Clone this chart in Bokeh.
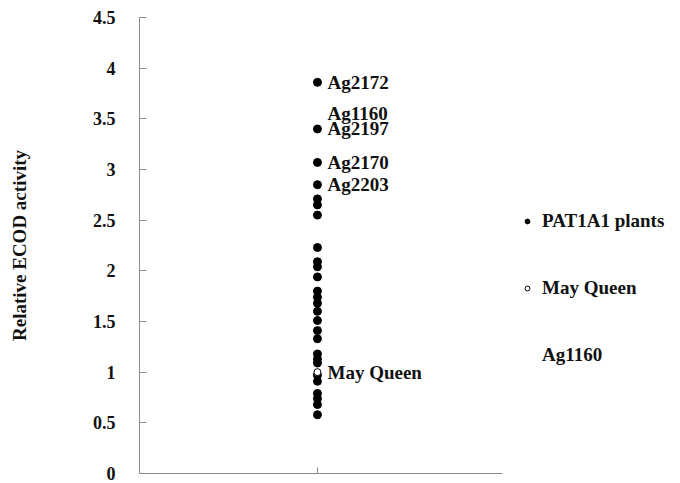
from bokeh.plotting import figure
from bokeh.models import ColumnDataSource, Legend, LegendItem, Range1d, FixedTicker
from bokeh.embed import file_html
from bokeh.resources import INLINE
from bokeh.core.properties import value

FONT = "Liberation Serif"

# ---- data ----
pat_values = [3.86, 3.40, 3.07, 2.85, 2.71, 2.65, 2.55, 2.23, 2.09, 2.04, 1.94,
              1.80, 1.74, 1.68, 1.60, 1.51, 1.41, 1.33, 1.18, 1.13, 1.09, 0.97,
              0.91, 0.79, 0.74, 0.68, 0.58]
may_queen_values = [1.00]
ag1160_values = [3.55]
label_names = ["Ag2172", "Ag1160", "Ag2197", "Ag2170", "Ag2203", "May Queen"]
label_values = [3.86, 3.55, 3.40, 3.07, 2.85, 1.00]
y_ticks = [0, 0.5, 1, 1.5, 2, 2.5, 3, 3.5, 4, 4.5]
y_tick_labels = ["0", "0.5", "1", "1.5", "2", "2.5", "3", "3.5", "4", "4.5"]
group_x = 1
x_axis_extent = (0, 2.04)

p = figure(width=680, height=483, output_backend="svg", toolbar_location=None,
           x_range=Range1d(0, 3.04), y_range=Range1d(0, 4.5),
           min_border_left=139, min_border_top=17, min_border_right=0,
           min_border_bottom=10)
p.outline_line_color = None
p.xgrid.visible = False
p.ygrid.visible = False
p.background_fill_color = "white"
p.border_fill_color = "white"

src_pat = ColumnDataSource(dict(x=[group_x] * len(pat_values), y=pat_values))
src_mq = ColumnDataSource(dict(x=[group_x] * len(may_queen_values), y=may_queen_values))
src_ag = ColumnDataSource(dict(x=[group_x] * len(ag1160_values), y=ag1160_values))
src_lab = ColumnDataSource(dict(x=[group_x] * len(label_values), y=label_values, t=label_names))

r_pat = p.scatter("x", "y", source=src_pat, size=8, fill_color="black", line_color="black")
r_ag = p.scatter("x", "y", source=src_ag, size=8, fill_color="white", line_color=None)
r_mq = p.scatter("x", "y", source=src_mq, size=7, fill_color="white", line_color="black", line_width=1)

p.text("x", "y", text="t", source=src_lab, x_offset=10, text_baseline="middle",
       text_font=value(FONT), text_font_style="bold", text_font_size="19px", text_color="#111111")

# axes
ya = p.yaxis[0]
ya.ticker = FixedTicker(ticks=y_ticks)
ya.major_label_overrides = {t: l for t, l in zip(y_ticks, y_tick_labels)}
ya.major_tick_in = 7
ya.major_tick_out = 0
ya.minor_tick_line_color = None
ya.axis_line_color = "#8a8a8a"
ya.major_tick_line_color = "#8a8a8a"
ya.major_label_text_font = FONT
ya.major_label_text_font_style = "bold"
ya.major_label_text_font_size = "18px"
ya.major_label_text_color = "#111111"
ya.major_label_text_align = "left"
ya.major_label_standoff = 24
ya.axis_label = "Relative ECOD activity"
ya.axis_label_text_font = FONT
ya.axis_label_text_font_style = "bold"
ya.axis_label_text_font_size = "19px"
ya.axis_label_text_color = "#111111"
ya.axis_label_standoff = 60

xa = p.xaxis[0]
xa.bounds = x_axis_extent
xa.ticker = FixedTicker(ticks=[group_x])
xa.major_label_overrides = {group_x: ""}
xa.major_tick_in = 6
xa.major_tick_out = 0
xa.minor_tick_line_color = None
xa.axis_line_color = "#8a8a8a"
xa.major_tick_line_color = "#8a8a8a"
xa.major_label_text_font_size = "1px"
xa.major_label_standoff = 0

legend = Legend(items=[LegendItem(label="PAT1A1 plants", renderers=[r_pat]),
                       LegendItem(label="May Queen", renderers=[r_mq]),
                       LegendItem(label="Ag1160", renderers=[r_ag])],
                location=(382, 107), spacing=45, label_height=20, glyph_height=20,
                glyph_width=12, label_standoff=9, padding=0, margin=0,
                border_line_color=None, background_fill_alpha=0,
                label_text_font=FONT, label_text_font_style="bold",
                label_text_font_size="19px", label_text_color="#111111")
p.add_layout(legend, "center")

open("out.html", "w").write(file_html(p, INLINE))
